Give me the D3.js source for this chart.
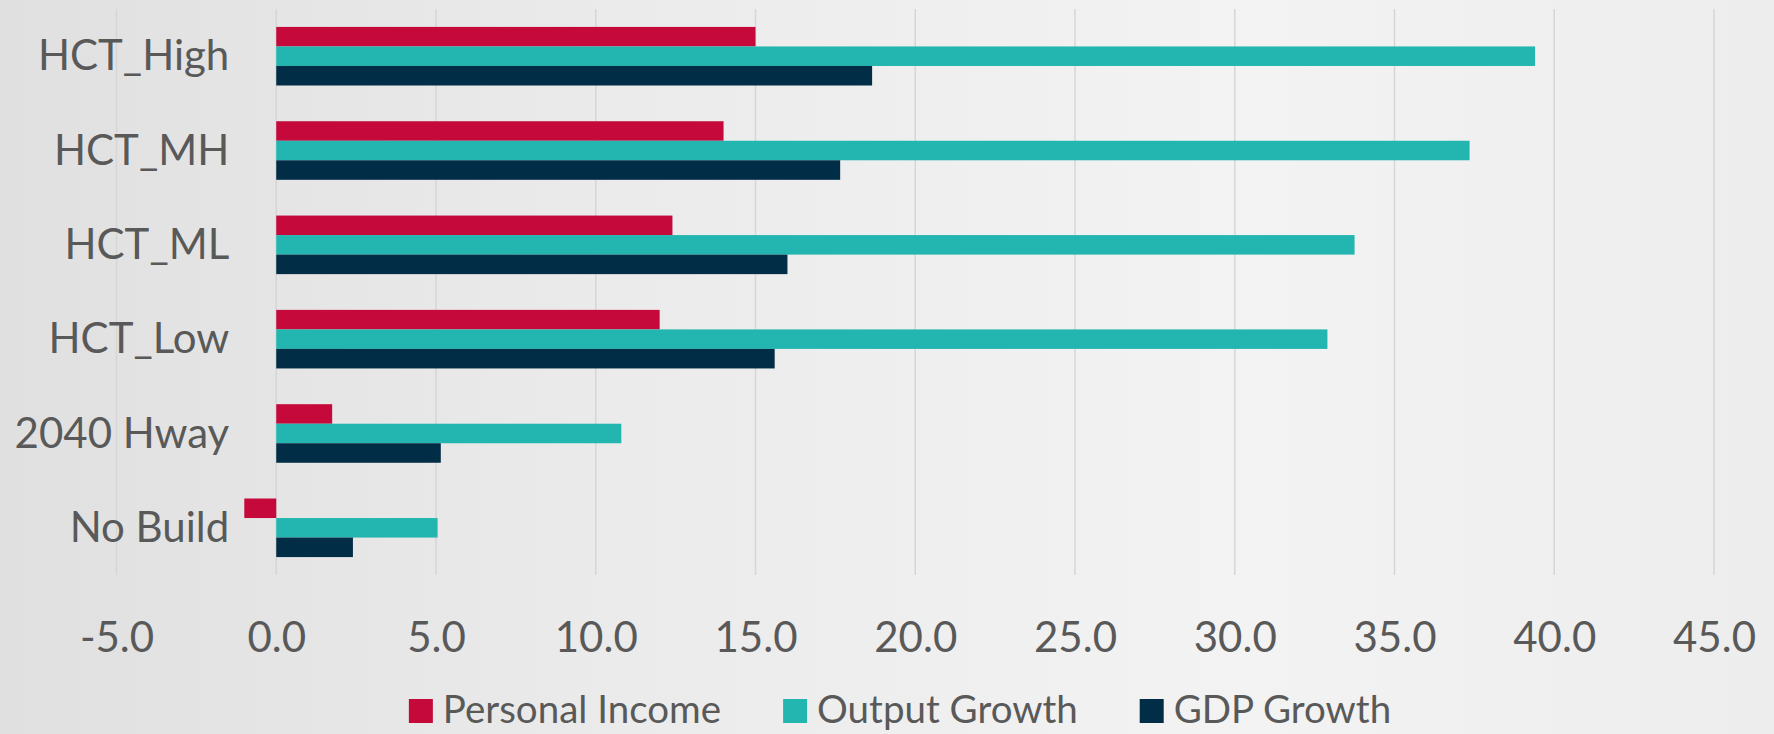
<!DOCTYPE html>
<html>
<head>
<meta charset="utf-8">
<script src="https://cdn.jsdelivr.net/npm/d3@7"></script>
<style>
    body { margin: 0; padding: 0; overflow: hidden; }
    #chart { width: 1774px; height: 734px; }
    .axis-label { font-family: Lato, "Open Sans", sans-serif; fill: #595959; }
</style>
</head>
<body>
<div id="chart"></div>
<script>
// data
let categories = ["HCT_High", "HCT_MH", "HCT_ML", "HCT_Low", "2040 Hway", "No Build"];
let seriesNames = ["Personal Income", "Output Growth", "GDP Growth"];
let personalIncome = [15.0, 14.0, 12.4, 12.0, 1.75, -1.0];
let outputGrowth = [39.4, 37.35, 33.75, 32.9, 10.8, 5.05];
let gdpGrowth = [18.65, 17.65, 16.0, 15.6, 5.15, 2.4];
let xTicks = [-5, 0, 5, 10, 15, 20, 25, 30, 35, 40, 45];
let colors = ["#C5093B", "#23B5AF", "#022D46"];

let seriesValues = [personalIncome, outputGrowth, gdpGrowth];

let width = 1774, height = 734;
let plot = {left: 116.5, right: 1714, top: 9, bottom: 575};

let svg = d3.select("#chart").append("svg")
    .attr("width", width)
    .attr("height", height);

// background gradient
let defs = svg.append("defs");
let grad = defs.append("linearGradient")
    .attr("id", "bg")
    .attr("x1", "0").attr("y1", "0")
    .attr("x2", "1").attr("y2", "0");
grad.append("stop").attr("offset", "0").attr("stop-color", "#e0e0e0");
grad.append("stop").attr("offset", "0.35").attr("stop-color", "#ebebeb");
grad.append("stop").attr("offset", "0.7").attr("stop-color", "#f3f3f3");
grad.append("stop").attr("offset", "1").attr("stop-color", "#ededed");

svg.append("rect")
    .attr("width", width)
    .attr("height", height)
    .attr("fill", "url(#bg)");

// scales
let x = d3.scaleLinear()
    .domain([-5, 45])
    .range([plot.left, plot.right]);

let y = d3.scaleBand()
    .domain(categories)
    .range([plot.top, plot.bottom])
    .paddingInner(0.379)
    .paddingOuter(0.19);

let ySub = d3.scaleBand()
    .domain(seriesNames)
    .range([0, y.bandwidth()]);

// gridlines
svg.append("g")
    .attr("class", "grid")
    .selectAll("line")
    .data(xTicks)
    .enter()
    .append("line")
    .attr("x1", d => x(d))
    .attr("x2", d => x(d))
    .attr("y1", plot.top)
    .attr("y2", plot.bottom)
    .attr("stroke", "#d6d6d6")
    .attr("stroke-width", 1.5);

// bars
let rows = categories.map((c, i) => ({
    category: c,
    values: seriesNames.map((s, j) => ({series: s, value: seriesValues[j][i], color: colors[j]}))
}));

let groups = svg.append("g")
    .selectAll(".group")
    .data(rows)
    .enter()
    .append("g")
    .attr("class", "group")
    .attr("transform", d => `translate(0, ${y(d.category)})`);

groups.selectAll("rect")
    .data(d => d.values)
    .enter()
    .append("rect")
    .attr("x", d => x(Math.min(0, d.value)))
    .attr("width", d => Math.abs(x(d.value) - x(0)))
    .attr("y", d => ySub(d.series))
    .attr("height", ySub.bandwidth())
    .attr("fill", d => d.color);

// category axis
let yAxis = d3.axisLeft(y).tickSize(0).tickPadding(47);
let yAxisG = svg.append("g")
    .attr("transform", `translate(${x(0)}, 0)`)
    .call(yAxis);
yAxisG.select(".domain").remove();
yAxisG.selectAll("text")
    .attr("class", "axis-label")
    .style("font-size", "42px")
    .attr("dy", "0.34em");

// value axis (plain hyphen for negatives, like the original)
let xAxis = d3.axisBottom(x)
    .tickValues(xTicks)
    .tickFormat(d => d.toFixed(1))
    .tickSize(0)
    .tickPadding(47);
let xAxisG = svg.append("g")
    .attr("transform", `translate(0, ${plot.bottom})`)
    .call(xAxis);
xAxisG.select(".domain").remove();
xAxisG.selectAll("text")
    .attr("class", "axis-label")
    .style("font-size", "42px");

// legend
let legend = svg.append("g").attr("class", "legend");
let legendItems = legend.selectAll("g")
    .data(seriesNames)
    .enter()
    .append("g");

legendItems.append("rect")
    .attr("width", 24)
    .attr("height", 24)
    .attr("y", -24)
    .attr("fill", (d, i) => colors[i]);

legendItems.append("text")
    .attr("class", "axis-label")
    .attr("x", 34)
    .attr("y", 0)
    .style("font-size", "38.5px")
    .text(d => d);

// lay out legend items side by side, centred
let gap = 62;
let offsets = [];
let cursor = 0;
legendItems.each(function () {
    offsets.push(cursor);
    let w = 34 + this.querySelector("text").getComputedTextLength();
    cursor += w + gap;
});
let totalWidth = cursor - gap;
let legendStart = 900 - totalWidth / 2;
legendItems.attr("transform", (d, i) => `translate(${legendStart + offsets[i]}, 723)`);
</script>
</body>
</html>
